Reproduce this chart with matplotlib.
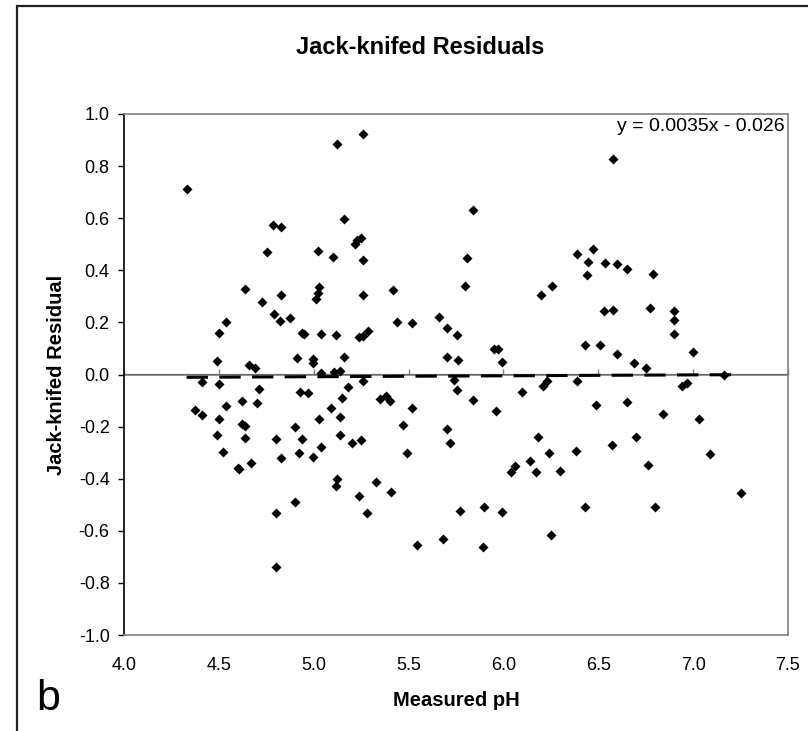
import numpy as np
import matplotlib
matplotlib.use("Agg")
import matplotlib.pyplot as plt
from matplotlib.patches import Rectangle

# measured pH vs jack-knifed residual
ph = [4.33, 4.375, 4.41, 4.41, 4.49, 4.50, 4.54, 4.50, 4.50, 4.49,
      4.52, 4.54, 4.60, 4.605, 4.62, 4.62, 4.64, 4.64, 4.64, 4.67,
      4.66, 4.69, 4.70, 4.71, 4.73, 4.755, 4.785, 4.83, 4.79, 4.82,
      4.83, 4.875, 4.80, 4.80, 4.80, 4.83, 4.91, 4.90, 4.90, 4.92,
      4.94, 4.95, 4.93, 4.97, 4.94, 4.995, 4.995, 4.995, 5.01, 5.02,
      5.03, 5.02, 5.04, 5.04, 5.03, 5.04, 5.10, 5.125, 5.12, 5.09,
      5.105, 5.14, 5.16, 5.16, 5.14, 5.15, 5.18, 5.14, 5.125, 5.12,
      5.20, 5.25, 5.22, 5.23, 5.25, 5.26, 5.26, 5.26, 5.24, 5.26,
      5.285, 5.26, 5.24, 5.28, 5.33, 5.35, 5.38, 5.40, 5.41, 5.42,
      5.44, 5.47, 5.49, 5.52, 5.52, 5.545, 5.66, 5.70, 5.70, 5.755,
      5.76, 5.74, 5.755, 5.70, 5.72, 5.68, 5.77, 5.81, 5.80, 5.84,
      5.84, 5.90, 5.89, 5.95, 5.97, 5.99, 5.96, 5.99, 6.04, 6.06,
      6.10, 6.14, 6.17, 6.18, 6.20, 6.255, 6.21, 6.23, 6.24, 6.25,
      6.30, 6.38, 6.39, 6.39, 6.445, 6.47, 6.44, 6.43, 6.43, 6.51,
      6.49, 6.535, 6.53, 6.58, 6.60, 6.58, 6.60, 6.57, 6.65, 6.65,
      6.69, 6.70, 6.75, 6.76, 6.77, 6.79, 6.80, 6.84, 6.90, 6.90,
      6.90, 6.94, 6.97, 7.00, 7.03, 7.09, 7.165, 7.25]
resid = [0.714, -0.138, -0.156, -0.030, 0.050, 0.160, 0.200, -0.036, -0.170, -0.233,
         -0.296, -0.122, -0.358, -0.362, -0.100, -0.190, -0.197, -0.245, 0.330, -0.340,
         0.036, 0.025, -0.110, -0.054, 0.278, 0.470, 0.575, 0.568, 0.233, 0.206,
         0.306, 0.215, -0.247, -0.530, -0.740, -0.320, 0.063, -0.200, -0.490, -0.300,
         0.160, 0.156, -0.066, -0.072, -0.247, 0.059, 0.045, -0.317, 0.288, 0.313,
         0.337, 0.475, 0.154, 0.005, -0.170, -0.280, 0.450, 0.883, 0.150, -0.130,
         0.011, 0.014, 0.068, 0.596, -0.165, -0.090, -0.048, -0.233, -0.403, -0.428,
         -0.263, -0.253, 0.500, 0.517, 0.525, 0.922, 0.440, 0.306, 0.145, 0.147,
         0.168, -0.025, -0.467, -0.530, -0.414, -0.093, -0.082, -0.100, -0.450, 0.324,
         0.200, -0.195, -0.303, 0.197, -0.130, -0.654, 0.220, 0.177, 0.068, 0.150,
         0.056, -0.020, -0.060, -0.210, -0.263, -0.630, -0.525, 0.446, 0.340, 0.632,
         -0.097, -0.507, -0.663, 0.097, 0.097, 0.048, -0.140, -0.526, -0.376, -0.350,
         -0.066, -0.333, -0.374, -0.240, 0.306, 0.340, -0.045, -0.025, -0.303, -0.618,
         -0.370, -0.294, -0.025, 0.464, 0.432, 0.480, 0.381, 0.115, -0.507, 0.115,
         -0.118, 0.428, 0.242, 0.249, 0.426, 0.829, 0.079, -0.270, 0.405, -0.106,
         0.045, -0.240, 0.025, -0.346, 0.254, 0.387, -0.508, -0.152, 0.244, 0.211,
         0.156, -0.043, -0.034, 0.086, -0.170, -0.304, -0.002, -0.455]

slope, intercept = 0.0035, -0.026
xticks = [4.0, 4.5, 5.0, 5.5, 6.0, 6.5, 7.0, 7.5]
yticks = [-1.0, -0.8, -0.6, -0.4, -0.2, 0.0, 0.2, 0.4, 0.6, 0.8, 1.0]

plt.rcParams['font.family'] = ['Liberation Sans', 'DejaVu Sans']
grey = '#808080'

fig = plt.figure(figsize=(8.08, 7.31), dpi=100)
ax = fig.add_axes([124/808, 1 - 635/731, 664/808, 521/731])

ax.scatter(ph, resid, marker='D', s=26, color='black', linewidths=0, zorder=3)

xs = np.array([min(ph), max(ph)])
ax.plot(xs, slope*xs + intercept, color='black', lw=2.2,
        linestyle=(0, (7, 3.7)), zorder=4)

ax.axhline(0, color=grey, lw=1.2, zorder=2)

ax.set_xlim(4.0, 7.5)
ax.set_ylim(-1.0, 1.0)
ax.set_xticks(xticks)
ax.set_xticklabels([f'{v:.1f}' for v in xticks])
ax.set_yticks(yticks)
ax.set_yticklabels([f'{v:.1f}' for v in yticks])
ax.tick_params(axis='x', length=0, pad=16, labelsize=13)
ax.tick_params(axis='y', direction='out', length=4.3, width=1, pad=6,
               labelsize=13, color='black')

for s in ['top', 'right', 'bottom']:
    ax.spines[s].set_color(grey)
    ax.spines[s].set_linewidth(1.2)
ax.spines['left'].set_color('black')
ax.spines['left'].set_linewidth(1.2)

# tick marks on the zero line
sec = ax.secondary_xaxis(0.5)
sec.set_xticks(xticks)
sec.tick_params(direction='out', length=3.6, width=1, color=grey, labelbottom=False)
sec.set_xticklabels([])
sec.spines['bottom'].set_visible(False)

ax.set_xlabel('Measured pH', fontsize=14.5, fontweight='bold', labelpad=12)
ax.set_ylabel('Jack-knifed Residual', fontsize=14.5, fontweight='bold', labelpad=9)

fig.text(420/808, 1 - 47/731, 'Jack-knifed Residuals', fontsize=17,
         fontweight='bold', ha='center', va='center')
ax.text(0.995, 0.976, 'y = 0.0035x - 0.026', transform=ax.transAxes,
        fontsize=14, ha='right', va='center')
fig.text(36/808, 1 - 699/731, 'b', fontsize=31, ha='left', va='center')

fig.patches.append(Rectangle((17/808, -0.1), 1.2, 1.1 - 6/731,
                             transform=fig.transFigure, fill=False,
                             edgecolor='#222222', lw=1.6))

fig.savefig('out.png', dpi=100)
